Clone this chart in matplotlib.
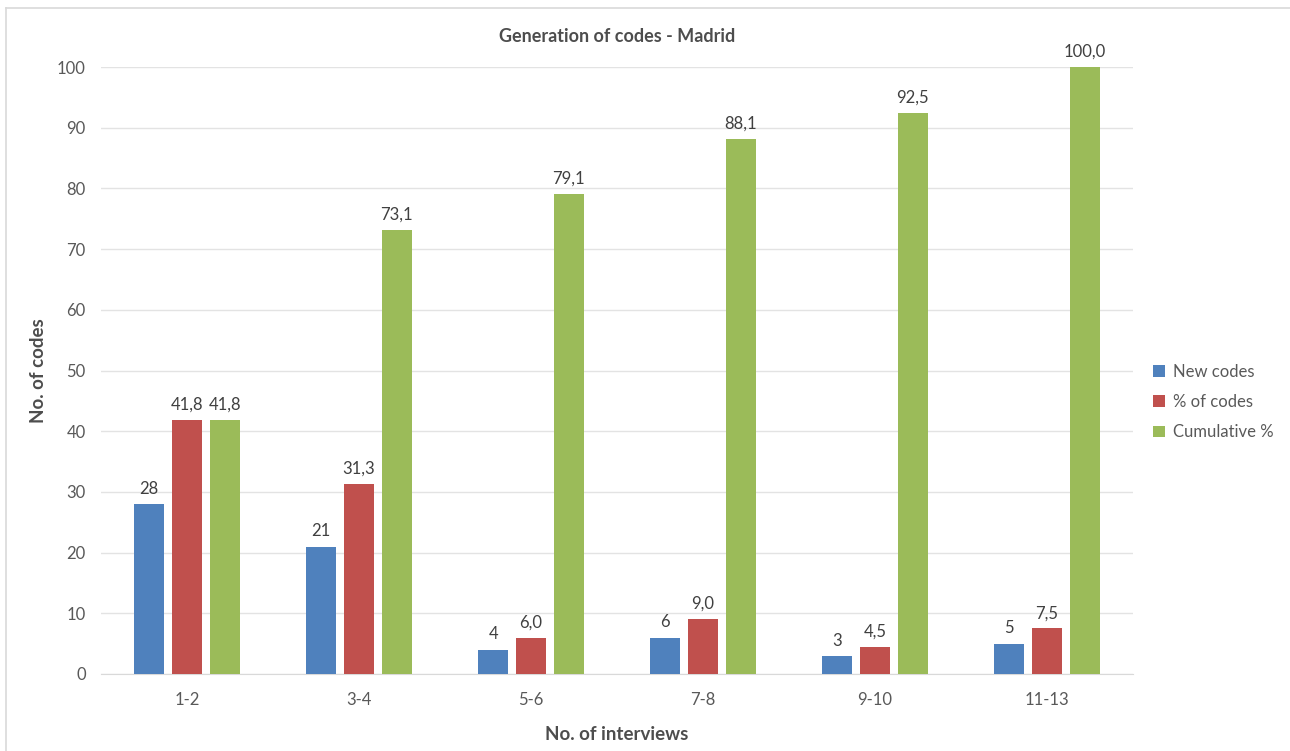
import matplotlib.pyplot as plt
import numpy as np
from matplotlib.lines import Line2D

categories = ["1-2", "3-4", "5-6", "7-8", "9-10", "11-13"]
new_codes = [28, 21, 4, 6, 3, 5]
pct_codes = [41.8, 31.3, 6.0, 9.0, 4.5, 7.5]
cumulative = [41.8, 73.1, 79.1, 88.1, 92.5, 100.0]
series_names = ["New codes", "% of codes", "Cumulative %"]
colors = ["#4F81BD", "#C0504D", "#9BBB59"]

plt.rcParams['font.family'] = ['Lato', 'DejaVu Sans']

fig = plt.figure(figsize=(12.9, 7.51), dpi=100)
ax = fig.add_axes([101 / 1290, 1 - 674 / 751, (1133 - 101) / 1290, (674 - 67) / 751])

# Light chart-area frame (top and left edges)
fx, fy = 6 / 1290, 1 - 8 / 751
fig.add_artist(Line2D([fx, 1.0], [fy, fy], transform=fig.transFigure, color="#D9D9D9", linewidth=1.2))
fig.add_artist(Line2D([fx, fx], [0.0, fy], transform=fig.transFigure, color="#D9D9D9", linewidth=1.2))

x = np.arange(len(categories))
width = 0.175
step = 0.22
series = [new_codes, pct_codes, cumulative]
fmt = [lambda v: f"{v:d}", lambda v: f"{v:.1f}".replace(".", ","),
       lambda v: f"{v:.1f}".replace(".", ",")]

for i, (vals, col, name) in enumerate(zip(series, colors, series_names)):
    pos = x + (i - 1) * step
    bars = ax.bar(pos, vals, width=width, color=col, label=name, zorder=3)
    for b, v in zip(bars, vals):
        ax.text(b.get_x() + b.get_width() / 2, v + 1.2, fmt[i](v), ha="center", va="bottom",
                fontsize=12, color="#404040")

ax.set_xlim(-0.5, len(categories) - 0.5)
ax.set_ylim(0, 100)
ax.set_yticks(range(0, 101, 10))
ax.set_xticks(x)
ax.set_xticklabels(categories)
ax.tick_params(axis="both", length=0, labelsize=12, colors="#595959")
ax.tick_params(axis="y", pad=11)
ax.tick_params(axis="x", pad=13)
ax.grid(axis="y", color="#E3E3E3", linewidth=1, zorder=0)
for s in ["top", "right", "left"]:
    ax.spines[s].set_visible(False)
ax.spines["bottom"].set_color("#D9D9D9")

ax.set_title("Generation of codes - Madrid", fontsize=13, fontweight="bold", color="#4D4D4D", pad=18)
ax.set_ylabel("No. of codes", fontsize=13.5, fontweight="bold", color="#4D4D4D", labelpad=7)
ax.set_xlabel("No. of interviews", fontsize=13.5, fontweight="bold", color="#4D4D4D", labelpad=13)

leg = ax.legend(loc="center left", bbox_to_anchor=(1.005, 0.448), frameon=False, fontsize=12,
                handlelength=0.7, handleheight=0.7, handletextpad=0.5, labelspacing=0.85)
for t in leg.get_texts():
    t.set_color("#595959")

fig.savefig("out.png", dpi=100)
